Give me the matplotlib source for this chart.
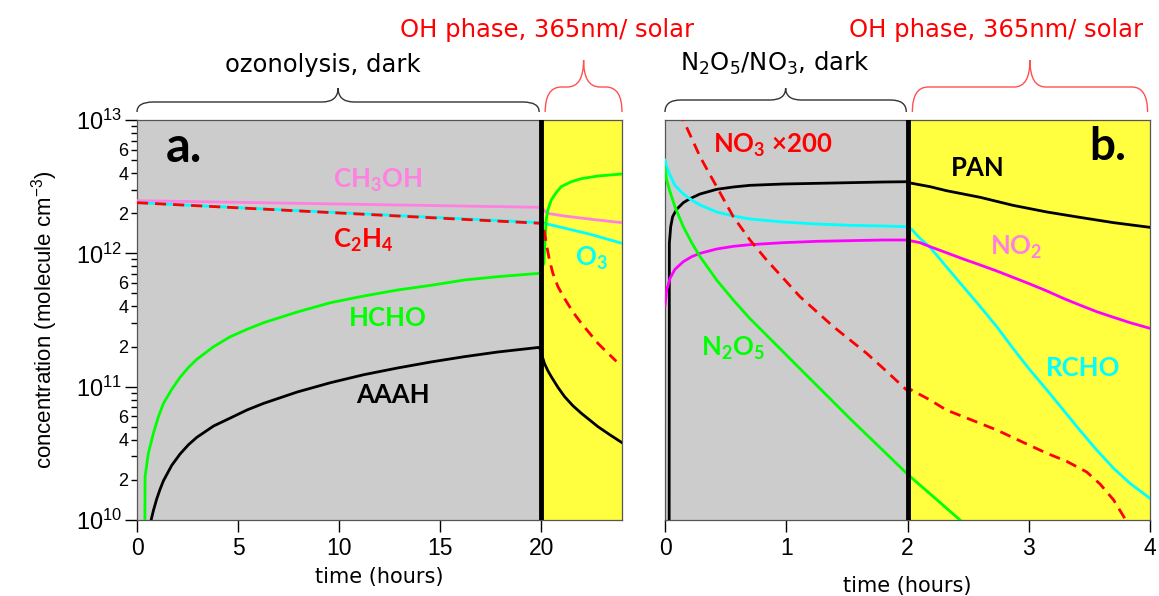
import numpy as np
import matplotlib.pyplot as plt
import matplotlib.transforms as mtransforms
from matplotlib.path import Path
from matplotlib.patches import PathPatch

plt.rcParams['font.family'] = ['Liberation Sans', 'DejaVu Sans']
plt.rcParams['mathtext.default'] = 'regular'

GRAY = '#cccccc'
YELLOW = '#ffff40'
PINK = '#ff80e0'
MAGENTA = '#ff00ff'
CYAN = '#00ffff'
GREEN = '#00ff00'
RED = '#ff0000'

# values are log10(concentration / molecule cm-3)

# ---- panel a: ozonolysis (hours) ----
t_ch3oh = [0, 20, 20.3, 21.14, 22.5, 24]
ch3oh = [12.395, 12.345, 12.30, 12.28, 12.255, 12.23]

t_o3 = [0, 20, 21.14, 22.5, 24]
o3 = [12.38, 12.23, 12.19, 12.14, 12.075]

t_c2h4 = [0, 20, 20.08, 20.25, 20.41, 20.58, 20.83, 21.16, 21.57, 21.99, 22.40, 22.81,
          23.31, 23.72]
c2h4 = [12.38, 12.225, 12.237, 12.075, 11.95, 11.85, 11.75, 11.66, 11.56, 11.475, 11.40,
        11.325, 11.25, 11.19]

t_hcho = [0.38, 0.40, 0.56, 0.81, 1.06, 1.31, 1.72, 2.13, 2.55, 2.96, 3.79, 4.62, 5.44,
          6.27, 7.93, 9.58, 11.23, 12.89, 14.54, 16.2, 17.85, 19.92, 20.13, 20.2, 20.25,
          20.33, 20.5, 20.74, 20.99, 21.49, 21.99, 22.81, 24.0]
hcho = [9.7, 10.325, 10.50, 10.65, 10.775, 10.875, 10.98, 11.07, 11.145, 11.205, 11.30,
        11.375, 11.43, 11.48, 11.56, 11.63, 11.68, 11.725, 11.76, 11.80, 11.825, 11.85,
        11.925, 12.125, 12.25, 12.325, 12.40, 12.455, 12.50, 12.537, 12.56, 12.58, 12.595]

t_aaah = [0.62, 0.81, 0.98, 1.14, 1.31, 1.72, 2.13, 2.55, 2.96, 3.79, 4.62, 5.44, 6.27,
          7.93, 9.58, 11.23, 12.89, 14.54, 16.2, 17.85, 19.92, 20.16, 20.33, 20.50, 20.83,
          21.16, 21.57, 21.99, 22.40, 22.81, 23.39, 24.0]
aaah = [9.95, 10.07, 10.16, 10.23, 10.295, 10.41, 10.495, 10.565, 10.62, 10.705, 10.765,
        10.825, 10.875, 10.96, 11.03, 11.09, 11.14, 11.185, 11.225, 11.26, 11.295, 11.175,
        11.12, 11.075, 10.995, 10.925, 10.857, 10.80, 10.75, 10.70, 10.64, 10.58]

# ---- panel b: N2O5/NO3 (hours) ----
t_pan = [0.034, 0.036, 0.047, 0.063, 0.096, 0.151, 0.206, 0.289, 0.426, 0.563, 0.701,
         0.976, 1.251, 1.526, 1.80, 1.993, 2.007, 2.186, 2.32, 2.60, 2.87, 3.15, 3.42,
         3.70, 4.0]
pan = [9.5, 12.075, 12.20, 12.275, 12.33, 12.38, 12.41, 12.445, 12.48, 12.4975, 12.51,
       12.52, 12.525, 12.53, 12.535, 12.537, 12.53, 12.50, 12.47, 12.42, 12.36, 12.31,
       12.27, 12.23, 12.195]

t_rcho = [0, 0.014, 0.041, 0.082, 0.151, 0.22, 0.289, 0.426, 0.563, 0.701, 0.976, 1.251,
          1.526, 1.80, 1.993, 2.034, 2.103, 2.186, 2.32, 2.46, 2.60, 2.736, 2.87, 3.01,
          3.15, 3.285, 3.42, 3.56, 3.70, 3.835, 4.0]
rcho = [12.70, 12.65, 12.5875, 12.51, 12.445, 12.40, 12.3625, 12.31, 12.28, 12.2575,
        12.235, 12.22, 12.21, 12.205, 12.20, 12.18, 12.1125, 12.045, 11.90, 11.75, 11.60,
        11.45, 11.2875, 11.125, 10.975, 10.825, 10.675, 10.525, 10.3875, 10.275, 10.1625]

t_no2 = [0, 0.014, 0.041, 0.082, 0.151, 0.22, 0.289, 0.426, 0.563, 0.701, 0.976, 1.251,
         1.526, 1.80, 1.993, 2.103, 2.186, 2.32, 2.46, 2.60, 2.736, 2.87, 3.01, 3.15,
         3.285, 3.42, 3.56, 3.70, 3.835, 4.0]
no2 = [11.6125, 11.725, 11.8125, 11.88, 11.9375, 11.975, 12.0, 12.0325, 12.0525, 12.065,
       12.08, 12.09, 12.095, 12.10, 12.10, 12.08, 12.05, 12.005, 11.9575, 11.9125, 11.8675,
       11.82, 11.77, 11.7175, 11.6625, 11.6125, 11.5625, 11.52, 11.48, 11.4375]

t_n2o5 = [0, 0.014, 0.041, 0.082, 0.151, 0.22, 0.289, 0.426, 0.563, 0.701, 0.811, 0.976,
          1.113, 1.251, 1.389, 1.526, 1.663, 1.80, 1.993, 2.007, 2.213, 2.433, 2.5]
n2o5 = [12.6375, 12.55, 12.4625, 12.35, 12.20, 12.08, 11.975, 11.80, 11.65, 11.51,
        11.41, 11.26, 11.135, 11.01, 10.885, 10.76, 10.64, 10.52, 10.35, 10.3375,
        10.175, 10.0, 9.95]

t_no3 = [0.12, 0.151, 0.22, 0.289, 0.357, 0.426, 0.563, 0.701, 0.838, 0.976, 1.113, 1.251,
         1.389, 1.526, 1.663, 1.80, 1.993, 2.007, 2.186, 2.32, 2.529, 2.736, 2.942, 3.15,
         3.313, 3.478, 3.588, 3.70, 3.80]
no3x200 = [13.07, 13.0, 12.8625, 12.725, 12.6125, 12.5, 12.275, 12.10, 11.95, 11.8125,
           11.675, 11.5625, 11.45, 11.35, 11.25, 11.1375, 10.975, 10.9875, 10.90, 10.825,
           10.75, 10.675, 10.5875, 10.50, 10.44, 10.36, 10.27, 10.15, 10.0]

major_ticks = [1e10, 1e11, 1e12, 1e13]
major_labels = ['$10^{10}$', '$10^{11}$', '$10^{12}$', '$10^{13}$']
minor_ticks = [m * 10.0 ** e for e in (10, 11, 12) for m in range(2, 10)]
minor_labels = [str(m) if m in (2, 4, 6) else '' for e in (10, 11, 12) for m in range(2, 10)]

LBL = dict(family=['Lato', 'DejaVu Sans'], fontweight='bold', fontsize=18.5,
           ha='center', va='center')
TOP = dict(family=['DejaVu Sans'], fontsize=17.5, ha='center', va='center')


def conc(v):
    return 10.0 ** np.asarray(v)


def brace(ax, x0, x1, y0, y1, y2, r, color):
    xm = (x0 + x1) / 2
    verts = [(x0, y0), (x0, y1), (x0 + r, y1), (xm - r, y1), (xm, y1), (xm, y2),
             (xm, y1), (xm + r, y1), (x1 - r, y1), (x1, y1), (x1, y0)]
    codes = [Path.MOVETO, Path.CURVE3, Path.CURVE3, Path.LINETO, Path.CURVE3, Path.CURVE3,
             Path.CURVE3, Path.CURVE3, Path.LINETO, Path.CURVE3, Path.CURVE3]
    trans = mtransforms.blended_transform_factory(ax.transData, ax.transAxes)
    ax.add_patch(PathPatch(Path(verts, codes), fc='none', ec=color, lw=1.0,
                           transform=trans, clip_on=False))


def style(ax, xmax, split):
    ax.set_yscale('log')
    ax.set_ylim(1e10, 1e13)
    ax.set_xlim(0, xmax)
    ax.axvspan(0, split, color=GRAY, zorder=0)
    ax.axvspan(split, xmax, color=YELLOW, zorder=0)
    ax.axvline(split, color='k', lw=3.5, zorder=5)
    for s in ax.spines.values():
        s.set_color('#555555')
        s.set_linewidth(0.9)
    ax.tick_params(axis='x', direction='out', length=8.5, width=1, labelsize=16.5, pad=4)
    ax.set_xlabel('time (hours)', family=['DejaVu Sans'], fontsize=15)


fig = plt.figure(figsize=(11.59, 5.96), dpi=100)
ax_a = fig.add_axes([137 / 1159, 76 / 596, 485 / 1159, 400 / 596])
ax_b = fig.add_axes([665 / 1159, 76 / 596, 485 / 1159, 400 / 596])

# panel a
style(ax_a, 24, 20)
ax_a.plot(t_ch3oh, conc(ch3oh), color=PINK, lw=2, zorder=3)
ax_a.plot(t_o3, conc(o3), color=CYAN, lw=2, zorder=3)
ax_a.plot(t_c2h4, conc(c2h4), color=RED, lw=2, ls=(0, (4, 2.5)), zorder=4)
ax_a.plot(t_hcho, conc(hcho), color=GREEN, lw=2, zorder=3)
ax_a.plot(t_aaah, conc(aaah), color='k', lw=2, zorder=3)
ax_a.set_xticks([0, 5, 10, 15, 20])
ax_a.set_yticks(major_ticks, labels=major_labels, fontsize=17)
ax_a.set_yticks(minor_ticks, labels=minor_labels, minor=True, fontsize=13)
ax_a.tick_params(axis='y', which='major', direction='out', length=8.5, width=1, pad=2)
ax_a.tick_params(axis='y', which='minor', direction='out', length=4.3, width=1, pad=2)
ax_a.set_ylabel('concentration (molecule cm$^{-3}$)', fontsize=16)
ax_a.yaxis.set_label_coords(-0.158, 0.5)
ax_a.xaxis.labelpad = 5

ax_a.text(2.3, 6.2e12, 'a.', **{**LBL, 'fontsize': 35})
ax_a.text(11.9, 3.55e12, r'$\mathregular{CH_3OH}$', color=PINK, **LBL)
ax_a.text(11.2, 1.26e12, r'$\mathregular{C_2H_4}$', color=RED, **LBL)
ax_a.text(12.4, 3.27e11, 'HCHO', color=GREEN, **LBL)
ax_a.text(12.65, 8.7e10, 'AAAH', color='k', **LBL)
ax_a.text(22.5, 9.2e11, r'$\mathregular{O_3}$', color=CYAN, **LBL)

brace(ax_a, 0.0, 19.9, 1.02, 1.045, 1.08, 0.8, '#333333')
brace(ax_a, 20.2, 24.0, 1.02, 1.0825, 1.15, 0.8, '#ff5050')

# panel b
style(ax_b, 4, 2)
ax_b.plot(t_pan, conc(pan), color='k', lw=2, zorder=3)
ax_b.plot(t_rcho, conc(rcho), color=CYAN, lw=2, zorder=3)
ax_b.plot(t_no2, conc(no2), color=MAGENTA, lw=2, zorder=3)
ax_b.plot(t_n2o5, conc(n2o5), color=GREEN, lw=2, zorder=3)
ax_b.plot(t_no3, conc(no3x200), color=RED, lw=2, ls=(0, (4, 2.5)), zorder=4)
ax_b.set_xticks([0, 1, 2, 3, 4])
ax_b.tick_params(axis='y', which='both', left=False, labelleft=False)
ax_b.xaxis.labelpad = 11

ax_b.text(3.65, 6.3e12, 'b.', **{**LBL, 'fontsize': 33})
ax_b.text(0.89, 6.5e12, r'$\mathregular{NO_3}$ ×200', color=RED, **LBL)
ax_b.text(2.58, 4.37e12, 'PAN', color='k', **LBL)
ax_b.text(2.9, 1.1e12, r'$\mathregular{NO_2}$', color=PINK, **LBL)
ax_b.text(3.45, 1.38e11, 'RCHO', color=CYAN, **LBL)
ax_b.text(0.56, 1.95e11, r'$\mathregular{N_2O_5}$', color=GREEN, **LBL)

brace(ax_b, 0.0, 1.99, 1.02, 1.05, 1.08, 0.13, '#333333')
brace(ax_b, 2.04, 3.98, 1.02, 1.0825, 1.15, 0.13, '#ff5050')

# phase annotations
fig.text(323 / 1159, 1 - 65 / 596, 'ozonolysis, dark', **TOP)
fig.text(775 / 1159, 1 - 63 / 596, 'N$_2$O$_5$/NO$_3$, dark', **TOP)
fig.text(547 / 1159, 1 - 30 / 596, 'OH phase, 365nm/ solar', color=RED, **TOP)
fig.text(996 / 1159, 1 - 30 / 596, 'OH phase, 365nm/ solar', color=RED, **TOP)

fig.savefig('out.png', dpi=100)
